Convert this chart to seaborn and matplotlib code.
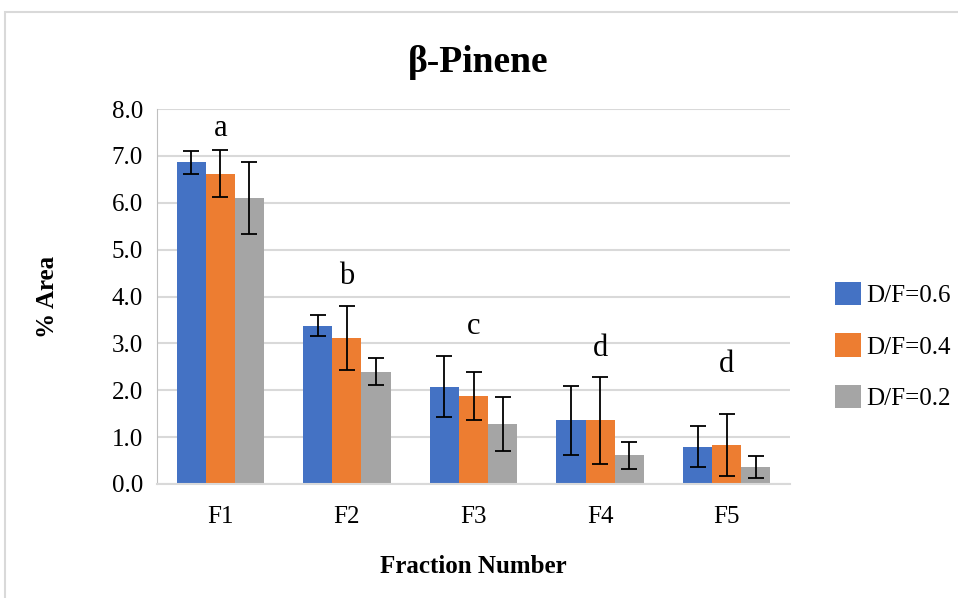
import matplotlib
matplotlib.use("Agg")
import matplotlib.pyplot as plt
import seaborn as sns
import pandas as pd
import numpy as np
from matplotlib.patches import Rectangle, Patch

fractions = ["F1", "F2", "F3", "F4", "F5"]
series = ["D/F=0.6", "D/F=0.4", "D/F=0.2"]
vals_06 = [6.86, 3.38, 2.08, 1.36, 0.80]
vals_04 = [6.62, 3.11, 1.88, 1.36, 0.84]
vals_02 = [6.10, 2.40, 1.28, 0.61, 0.36]
err_06 = [0.25, 0.22, 0.66, 0.74, 0.44]
err_04 = [0.50, 0.68, 0.52, 0.93, 0.66]
err_02 = [0.76, 0.28, 0.57, 0.29, 0.24]
letters = ["a", "b", "c", "d", "d"]
letter_y = [7.59, 4.42, 3.37, 2.90, 2.54]
colors = ["#4472C4", "#ED7D31", "#A5A5A5"]

rows = []
for s, v, e in zip(series, [vals_06, vals_04, vals_02], [err_06, err_04, err_02]):
    for f, vi, ei in zip(fractions, v, e):
        rows.append({"Fraction": f, "Series": s, "Value": vi, "Err": ei})
df = pd.DataFrame(rows)

sns.set_style("white")
plt.rcParams["font.family"] = ["Liberation Serif", "DejaVu Serif"]
plt.rcParams["text.color"] = "black"
plt.rcParams["axes.labelcolor"] = "black"

fig = plt.figure(figsize=(9.58, 5.98), dpi=100)
ax = fig.add_axes([157/958, 1-484/598, (790-157)/958, (484-109)/598])

sns.barplot(data=df, x="Fraction", y="Value", hue="Series", palette=colors,
            errorbar=None, width=0.69, saturation=1, ax=ax, legend=False,
            order=fractions, hue_order=series, zorder=2, linewidth=0, edgecolor="none")

bars = [p for p in ax.patches if isinstance(p, Rectangle)]
for i, s in enumerate(series):
    sub = df[df.Series == s].set_index("Fraction").loc[fractions]
    xs = [bars[i*len(fractions)+j].get_x() + bars[i*len(fractions)+j].get_width()/2
          for j in range(len(fractions))]
    ax.errorbar(xs, sub["Value"], yerr=sub["Err"], fmt="none", ecolor="black",
                elinewidth=1.3, capsize=5.5, capthick=1.3, zorder=3)

for j, (lt, ly) in enumerate(zip(letters, letter_y)):
    ax.text(j, ly, lt, ha="center", va="center", fontsize=22, color="black")

ax.set_ylim(0, 8)
ax.set_xlim(-0.5, 4.5)
ax.set_yticks(np.arange(0, 8.01, 1.0))
ax.set_yticklabels([f"{v:.1f}" for v in np.arange(0, 8.01, 1.0)])
ax.yaxis.grid(True, color="#D9D9D9", linewidth=1.5, zorder=0)
ax.set_axisbelow(True)
for sp in ["top", "right"]:
    ax.spines[sp].set_visible(False)
ax.spines["left"].set_color("#BFBFBF")
ax.spines["bottom"].set_color("#D9D9D9")
ax.spines["bottom"].set_linewidth(1.5)
ax.tick_params(axis="both", length=0, labelsize=18, colors="black", pad=10)
ax.tick_params(axis="x", pad=16)

ax.set_xlabel("Fraction Number", fontsize=18, fontweight="bold", labelpad=19, color="black")
ax.set_ylabel("% Area", fontsize=18, fontweight="bold", labelpad=38, color="black")
fig.text(478/958, 1-62/598, "β-Pinene", ha="center", va="center",
         fontsize=27, fontweight="bold", color="black")

handles = [Patch(facecolor=c, edgecolor="none") for c in colors]
leg = fig.legend(handles, series, loc="center left", bbox_to_anchor=(812/958, 1-346/598),
                 frameon=False, fontsize=18, handlelength=1.05, handleheight=1.05,
                 handletextpad=0.2, labelspacing=1.05)
for t in leg.get_texts():
    t.set_color("black")

fig.add_artist(Rectangle((5/958, -0.01), 1.2, 1-12/598+0.01, transform=fig.transFigure,
                         fill=False, edgecolor="#D9D9D9", linewidth=1.5))

fig.savefig("out.png", dpi=100)
